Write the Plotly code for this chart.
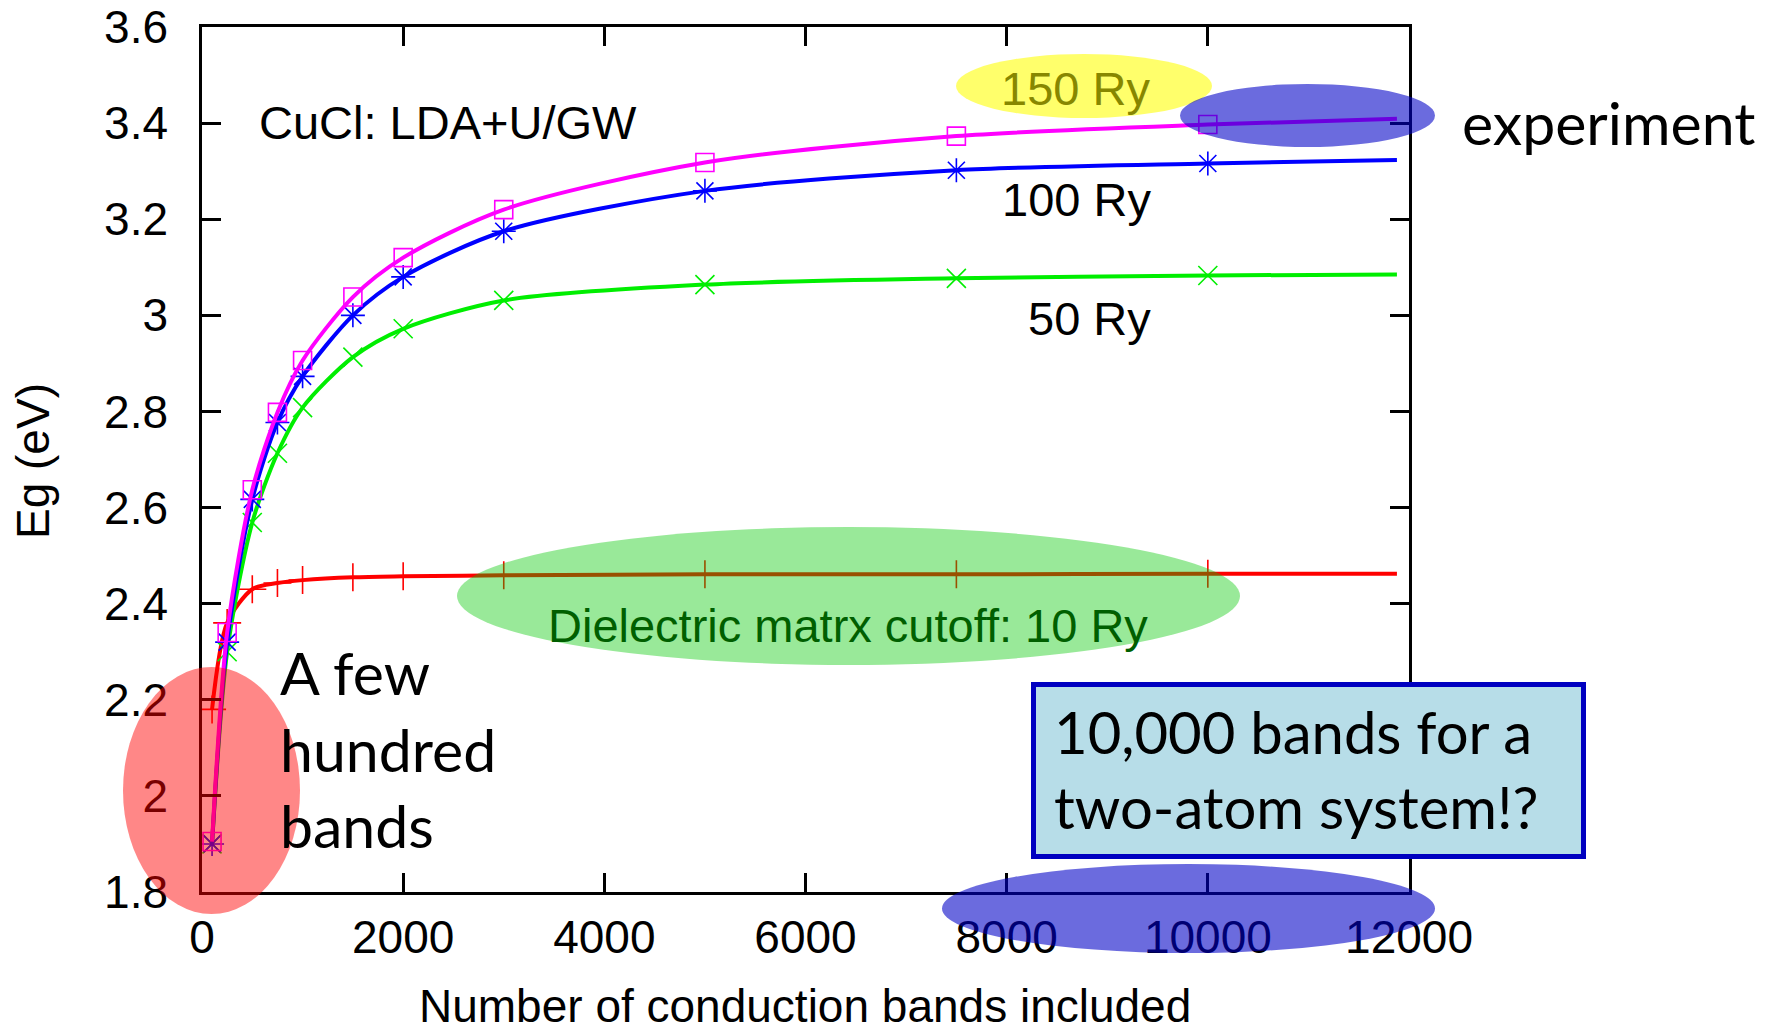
import plotly.graph_objects as go

# ---------------- data ----------------
bands = [100, 250, 500, 750, 1000, 1500, 2000, 3000, 5000, 7500, 10000]
eg_150ry = [1.905, 2.34, 2.637, 2.798, 2.906, 3.038, 3.12, 3.22, 3.318, 3.373, 3.397]
eg_100ry = [1.90, 2.32, 2.617, 2.777, 2.873, 3.0, 3.08, 3.175, 3.259, 3.302, 3.316]
eg_50ry = [1.90, 2.30, 2.569, 2.713, 2.808, 2.913, 2.972, 3.031, 3.064, 3.077, 3.083]
eg_10ry = [2.18, 2.36, 2.43, 2.443, 2.449, 2.455, 2.457, 2.459, 2.461, 2.461, 2.462]

# where the fitted curves end on the right, and their values there
curve_end_band = 11880
curve_end_eg = {"150 Ry": 3.409, "100 Ry": 3.323, "50 Ry": 3.085, "10 Ry": 2.462}

x_ticks = [0, 2000, 4000, 6000, 8000, 10000, 12000]
x_tick_labels = ["0", "2000", "4000", "6000", "8000", "10000", "12000"]
y_ticks = [1.8, 2.0, 2.2, 2.4, 2.6, 2.8, 3.0, 3.2, 3.4, 3.6]
y_tick_labels = ["1.8", "2", "2.2", "2.4", "2.6", "2.8", "3", "3.2", "3.4", "3.6"]

# ---------------- layout geometry ----------------
# The page body has an 8 px margin, so the figure starts 8 px in from the
# window's corner; margins are reduced by that amount.
W, H = 1777, 1029
OFF = 8
PL, PT = 202, 27          # plot area left / top in window pixels
PW, PH = 1207, 865        # plot area size
L, T = PL - OFF, PT - OFF
R, B = W - L - PW, H - T - PH


def px(x):
    return (x - PL) / PW


def py(y):
    return (PT + PH - y) / PH


GNU = "Liberation Sans"
SLIDE = "Lato"

fig = go.Figure()

series = [
    ("10 Ry", eg_10ry, "#ff0000", "cross-thin-open", 20),
    ("50 Ry", eg_50ry, "#00ee00", "x-thin-open", 19),
    ("100 Ry", eg_100ry, "#0000ff", "asterisk-open", 20),
    ("150 Ry", eg_150ry, "#ff00ff", "square-open", 18),
]
for name, ys, color, sym, size in series:
    fig.add_trace(go.Scatter(
        x=bands + [curve_end_band], y=ys + [curve_end_eg[name]],
        mode="lines", line=dict(color=color, width=4, shape="spline", smoothing=0.8),
        hoverinfo="skip", showlegend=False))
    fig.add_trace(go.Scatter(
        x=bands, y=ys, mode="markers", name=name,
        marker=dict(symbol=sym, size=size, color=color, line=dict(color=color, width=1.6)),
        showlegend=False))

axis_common = dict(
    showline=True, linecolor="black", linewidth=2.5, mirror="allticks",
    ticks="inside", ticklen=19, tickwidth=2.5, tickcolor="black",
    showgrid=False, zeroline=False, automargin=False, ticklabeloverflow="allow",
    tickfont=dict(family=GNU, size=46, color="black"),
)
fig.update_xaxes(range=[0, 12000], tickvals=x_ticks, ticktext=x_tick_labels,
                 ticklabelstandoff=3, **axis_common)
fig.update_yaxes(range=[1.8, 3.6], tickvals=y_ticks, ticktext=y_tick_labels,
                 ticklabelstandoff=22, **axis_common)

shapes = []


def ellipse(x0, x1, y0, y1, color):
    shapes.append(dict(type="circle", xref="paper", yref="paper",
                       x0=px(x0), x1=px(x1), y0=py(y1), y1=py(y0),
                       fillcolor=color, line=dict(width=0), layer="above"))


ellipse(123, 300, 667, 914, "rgba(255,0,0,0.47)")
ellipse(457, 1240, 527, 665, "rgba(0,200,0,0.40)")
ellipse(956, 1212, 54, 118, "rgba(255,255,0,0.58)")
ellipse(1180, 1435, 84, 147, "rgba(0,0,198,0.58)")
shapes.append(dict(type="rect", xref="paper", yref="paper",
                   x0=px(1033.5), x1=px(1583.5), y0=py(856.5), y1=py(684.5),
                   fillcolor="#b7dde8", line=dict(color="#0000c0", width=5), layer="above"))
ellipse(942, 1435, 864, 953, "rgba(0,0,198,0.58)")
fig.update_layout(shapes=shapes)

ann = []


def text(s, x, y, size, family, color="black", xanchor="center", align="center", angle=0):
    ann.append(dict(text=s, x=px(x), y=py(y), xref="paper", yref="paper",
                    xanchor=xanchor, yanchor="middle", align=align, showarrow=False,
                    textangle=angle, font=dict(family=family, size=size, color=color)))


# gnuplot texts
text("CuCl: LDA+U/GW", 448, 123, 47, GNU)
text("150 Ry", 1075, 89, 47, GNU, color="rgb(135,135,0)")
text("100 Ry", 1076, 199, 47, GNU)
text("50 Ry", 1089, 318, 47, GNU)
text("Dielectric matrx cutoff: 10 Ry", 848, 625, 47, GNU, color="rgb(0,95,0)")
text("Number of conduction bands included", 805, 1006, 46, GNU)
text("Eg (eV)", 33, 461, 46, GNU, angle=-90)

# slide texts
text("experiment", 1460, 123, 59, SLIDE, xanchor="left")
text("A few<br>hundred<br>bands", 278, 749, 59, SLIDE, xanchor="left", align="left")
text("10,000 bands for a<br>two-atom system!?", 1052, 769, 58, SLIDE, xanchor="left", align="left")

fig.update_layout(
    annotations=ann,
    width=W, height=H, autosize=False,
    margin=dict(l=L, r=R, t=T, b=B, pad=0),
    paper_bgcolor="white", plot_bgcolor="white",
    showlegend=False,
)

fig.write_html("out.html")
